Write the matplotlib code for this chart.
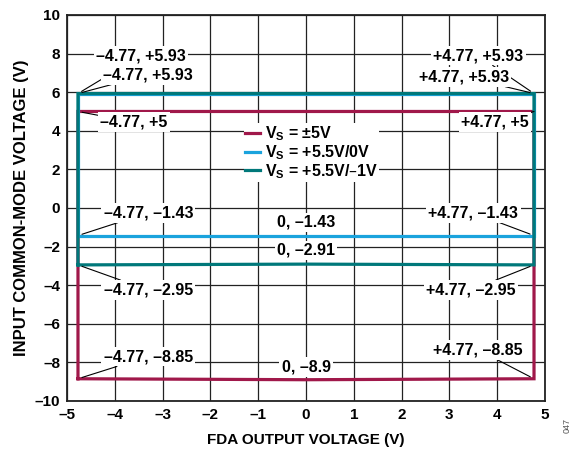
import matplotlib
matplotlib.use("Agg")
import matplotlib.pyplot as plt
from matplotlib.lines import Line2D

plt.rcParams['font.family'] = ['Liberation Sans', 'DejaVu Sans']
plt.rcParams['font.weight'] = 'bold'

# Data
vs5_x = [-4.77, 0, 4.77, 4.77, -4.77, -4.77]
vs5_y = [-8.85, -8.9, -8.85, 5, 5, -8.85]
vs55_0_x = [-4.77, 0, 4.77, 4.77, -4.77, -4.77]
vs55_0_y = [-1.43, -1.43, -1.43, 5.93, 5.93, -1.43]
vs55_1_x = [-4.77, 0, 4.77, 4.77, -4.77, -4.77]
vs55_1_y = [-2.95, -2.91, -2.95, 5.93, 5.93, -2.95]

series_labels = ["V$_\\mathregular{S}$ = ±5V", "V$_\\mathregular{S}$ = +5.5V/0V", "V$_\\mathregular{S}$ = +5.5V/–1V"]
colors = ["#A0184A", "#1AA3DD", "#00787A"]

# annotations: text, corner (x,y), text position (x,y)
annots = [
    ("–4.77, +5.93", (-4.77, 5.93), (-3.45, 7.9), True),
    ("–4.77, +5.93", (-4.77, 5.93), (-3.3, 6.9), True),
    ("–4.77, +5", (-4.77, 5.0), (-3.6, 4.45), True),
    ("+4.77, +5.93", (4.77, 5.93), (3.6, 7.9), True),
    ("+4.77, +5.93", (4.77, 5.93), (3.3, 6.8), True),
    ("+4.77, +5", (4.77, 5.0), (3.95, 4.45), True),
    ("–4.77, –1.43", (-4.77, -1.43), (-3.3, -0.25), True),
    ("0, –1.43", None, (0.0, -0.75), False),
    ("0, –2.91", None, (0.0, -2.2), False),
    ("–4.77, –2.95", (-4.77, -2.95), (-3.3, -4.25), True),
    ("+4.77, –1.43", (4.77, -1.43), (3.5, -0.25), True),
    ("+4.77, –2.95", (4.77, -2.95), (3.45, -4.25), True),
    ("–4.77, –8.85", (-4.77, -8.85), (-3.3, -7.7), True),
    ("0, –8.9", None, (0.0, -8.25), False),
    ("+4.77, –8.85", (4.77, -8.85), (3.6, -7.35), True),
]

FS = 11.5

fig = plt.figure(figsize=(5.76, 4.5), dpi=100)
ax = fig.add_axes([0.1163, 0.109, 0.8299, 0.8577])
ax.set_xlim(-5, 5)
ax.set_ylim(-10, 10)
ax.set_xticks(range(-5, 6))
ax.set_yticks(range(-10, 11, 2))
ax.set_xticklabels([str(v).replace('-', '–') for v in range(-5, 6)])
ax.set_yticklabels([str(v).replace('-', '–') for v in range(-10, 11, 2)])
ax.grid(True, color='#222222', lw=0.9, zorder=0)
ax.set_axisbelow(True)
ax.tick_params(length=0, labelsize=11, pad=5)
for sp in ax.spines.values():
    sp.set_linewidth(1.3)
    sp.set_color('#222222')

ax.plot(vs5_x, vs5_y, color=colors[0], lw=2.3, zorder=3, solid_joinstyle='miter')
ax.plot(vs55_0_x, vs55_0_y, color=colors[1], lw=2.3, zorder=4, solid_joinstyle='miter')
ax.plot(vs55_1_x, vs55_1_y, color=colors[2], lw=2.3, zorder=5, solid_joinstyle='miter')

for txt, corner, pos, lead in annots:
    bb = dict(boxstyle='square,pad=0.15', fc='white', ec='none')
    if lead:
        ax.annotate(txt, xy=corner, xytext=pos, ha='center', va='center',
                    fontsize=FS, fontweight='bold', bbox=bb, zorder=6,
                    arrowprops=dict(arrowstyle='-', lw=0.8, color='black',
                                    shrinkA=0, shrinkB=3))
    else:
        ax.text(pos[0], pos[1], txt, ha='center', va='center', fontsize=FS,
                fontweight='bold', bbox=bb, zorder=6)

handles = [Line2D([0], [0], color=c, lw=2.3) for c in colors]
leg = ax.legend(handles, series_labels, loc='upper left', bbox_to_anchor=(0.37, 0.72),
                frameon=True, fancybox=False, edgecolor='none', facecolor='white',
                framealpha=1, handlelength=0.9, handletextpad=0.3, labelspacing=0.0,
                borderpad=0.1, borderaxespad=0, prop={'size': FS, 'weight': 'bold'})
leg.set_zorder(7)

ax.set_xlabel("FDA OUTPUT VOLTAGE (V)", fontsize=11, fontweight='bold', labelpad=8)
ax.set_ylabel("INPUT COMMON-MODE VOLTAGE (V)", fontsize=12, fontweight='bold', labelpad=4)
fig.text(0.985, 0.055, "047", rotation=90, fontsize=6.5, color='#555555', ha='center', va='center',
         fontweight='normal')

fig.savefig("out.png", dpi=100)
